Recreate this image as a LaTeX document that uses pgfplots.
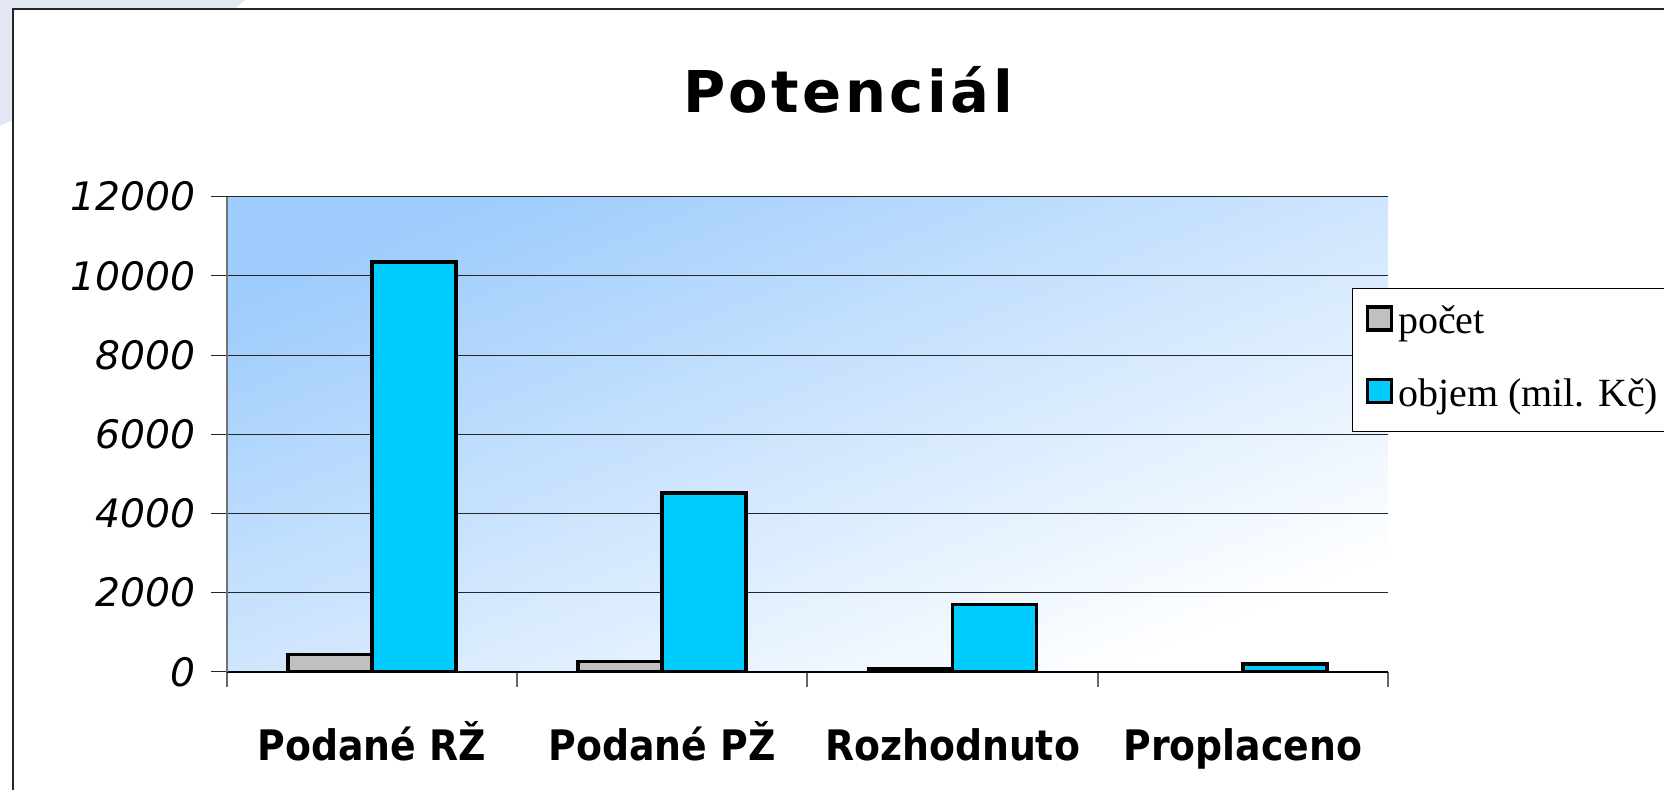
\documentclass[border=0pt]{standalone}
\usepackage{fontspec}
\usepackage{pgfplots}
\pgfplotsset{compat=1.18}
\newfontfamily\titlefont{DejaVu Sans}[LetterSpace=6]
\newfontfamily\catfont{DejaVu Sans Condensed}
\newfontfamily\tickfont{DejaVu Sans}
\newfontfamily\legfont{Liberation Serif}
\definecolor{barcyan}{RGB}{0,204,255}
\definecolor{bargray}{RGB}{192,192,192}
\definecolor{bgblue}{RGB}{158,204,252}
\definecolor{lav}{RGB}{227,231,243}
\begin{document}
\begin{tikzpicture}
\useasboundingbox (0,0) rectangle (832pt,-395pt);
\fill[white] (0,0) rectangle (832pt,-395pt);
\fill[lav] (0,0) -- (122.5pt,0) -- (117.5pt,-4.35pt) -- (6.35pt,-4.35pt) -- (6.35pt,-60pt) -- (0,-63pt) -- cycle;
\draw[line width=1pt, black!85] (6.35pt,-420pt) -- (6.35pt,-4.35pt) -- (860pt,-4.35pt);
\begin{axis}[
  at={(113.4pt,-335.95pt)}, anchor=south west,
  scale only axis, width=580.6pt, height=237.6pt,
  xmin=-0.5, xmax=3.5, ymin=0, ymax=12000,
  ybar=0pt, bar width=42pt,
  every axis plot/.append style={line width=1.8pt},
  axis background/.style={top color=bgblue, bottom color=white, shading angle=22},
  axis x line*=bottom, axis y line*=left,
  x axis line style={black, line width=0.7pt},
  y axis line style={draw=gray!90!black, line width=1pt},
  ytick={0,2000,...,12000},
  ymajorgrids, grid style={black!85, line width=0.55pt},
  tick align=outside, major tick length=7.75pt,
  ytick style={draw=black!85, line width=0.55pt},
  xtick={-0.5,0.5,1.5,2.5,3.5}, xticklabels={,,,,},
  xtick style={draw=gray!80!black, line width=1pt},
  extra x ticks={0,1,2,3},
  extra x tick labels={Podané RŽ, Podané PŽ, Rozhodnuto, Proplaceno},
  extra x tick style={major tick length=0pt, grid=none,
     xticklabel style={font=\catfont\bfseries\fontsize{21}{24}\selectfont, anchor=base, yshift=-44.5pt}},
  scaled y ticks=false,
  /pgf/number format/assume math mode=true,
  /pgf/number format/1000 sep={},
  yticklabel style={font=\tickfont\itshape\fontsize{19.6}{23}\selectfont, anchor=east, inner xsep=0pt, xshift=-7.75pt},
  legend style={at={(0.969,0.808)}, anchor=north west, draw=black, line width=0.6pt, fill=white,
     font=\legfont\fontsize{20}{24}\selectfont, inner xsep=6.5pt, inner ysep=8.25pt, row sep=18pt,
     nodes={text height=14pt, text depth=4pt, inner sep=0pt, inner xsep=2.5pt}},
  legend cell align=left,
  legend image code/.code={\draw[#1, line width=1.8pt] (0pt,-3pt) rectangle (12pt,8.5pt);},
]
\addplot[fill=bargray, draw=black, line width=1.8pt] coordinates {(0,440) (1,260) (2,90)};
\addplot[fill=barcyan, draw=black, line width=1.8pt] coordinates {(0,10350) (1,4520) (2,1700) (3,200)};
\legend{počet, objem (mil. Kč)}
\end{axis}
\node[anchor=base, inner sep=0pt, font=\titlefont\bfseries\fontsize{28.8}{34}\selectfont] at (424pt,-56.35pt) {Potenciál};
\end{tikzpicture}
\end{document}
